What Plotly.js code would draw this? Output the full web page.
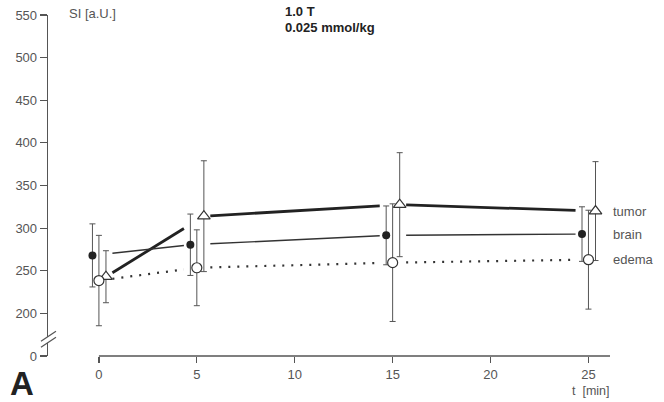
<!DOCTYPE html>
<html>
<head>
<meta charset="utf-8">
<script src="https://cdn.plot.ly/plotly-3.0.1.min.js"></script>
<style>html,body{margin:0;padding:0;background:#fff;}#chart{width:664px;height:402px;}</style>
</head>
<body>
<div id="chart"></div>
<script>
// ---- data ----
const times = [0, 5, 15, 25];
const seriesNames = ["tumor", "brain", "edema"];
const tumorSI = [243, 314, 327.5, 320];
const tumorErr = [30.5, 65, 61, 58];
const brainSI = [268, 280.5, 291.5, 293];
const brainErr = [37, 36, 34.5, 32];
const edemaSI = [238.5, 253.5, 259.5, 263];
const edemaErr = [53, 44.5, 69, 58];
const yTickVals = [150, 200, 250, 300, 350, 400, 450, 500, 550];
const yTickText = ["0", "200", "250", "300", "350", "400", "450", "500", "550"];
const xTickVals = [0, 5, 10, 15, 20, 25];

// ---- style ----
const FONT = "Liberation Sans, Arial, Helvetica, sans-serif";
const INK = "#222";
const GREY = "#555";
const xRange = [-2.6, 26.1];
const yRange = [150, 550];
const gapPad = 0.33;

const styles = {
  tumor: {shift: 0.36, y: tumorSI, err: tumorErr,
          line: {color: INK, width: 2.8},
          marker: {symbol: "triangle-up", size: 11, color: "#fff", line: {color: "#333", width: 1.2}}},
  brain: {shift: -0.33, y: brainSI, err: brainErr,
          line: {color: "#333", width: 1.4},
          marker: {symbol: "circle", size: 8, color: INK, line: {color: INK, width: 0}}},
  edema: {shift: 0, y: edemaSI, err: edemaErr,
          line: {color: "#333", width: 2.2, dash: "2px,7px"},
          marker: {symbol: "circle", size: 10, color: "#fff", line: {color: "#333", width: 1.2}}}
};

// cluster bounds (where connecting lines are interrupted)
const clusterL = times.map(t => Math.min(...seriesNames.map(n => t + styles[n].shift)) - gapPad);
const clusterR = times.map(t => Math.max(...seriesNames.map(n => t + styles[n].shift)) + gapPad);

const traces = [];
seriesNames.forEach(n => {
  const s = styles[n];
  const xs = times.map(t => t + s.shift);
  // gapped connecting line
  const lx = [], ly = [];
  for (let i = 0; i < xs.length - 1; i++) {
    const x0 = clusterR[i], x1 = clusterL[i + 1];
    const f = v => s.y[i] + (s.y[i + 1] - s.y[i]) * (v - xs[i]) / (xs[i + 1] - xs[i]);
    lx.push(x0, x1, null);
    ly.push(f(x0), f(x1), null);
  }
  traces.push({x: lx, y: ly, mode: "lines", line: s.line, hoverinfo: "skip",
               showlegend: false, connectgaps: false, cliponaxis: false});
});
seriesNames.forEach(n => {
  const s = styles[n];
  traces.push({
    x: times.map(t => t + s.shift), y: s.y, mode: "markers", name: n,
    marker: s.marker, showlegend: false, cliponaxis: false,
    error_y: {type: "data", array: s.err, visible: true, color: GREY, thickness: 1, width: 3}
  });
});

const annFont = {family: FONT, size: 13, color: GREY};
const annotations = [
  {text: "SI [a.U.]", xref: "paper", yref: "paper", x: 0.034, y: 1.003, xanchor: "left", yanchor: "middle", showarrow: false, font: annFont},
  {text: "<b>1.0 T</b>", xref: "paper", yref: "paper", x: 0.418, y: 1.009, xanchor: "left", yanchor: "middle", showarrow: false, font: {family: FONT, size: 13, color: INK}},
  {text: "<b>0.025 mmol/kg</b>", xref: "paper", yref: "paper", x: 0.418, y: 0.962, xanchor: "left", yanchor: "middle", showarrow: false, font: {family: FONT, size: 13, color: INK}},
  {text: "t  [min]", xref: "paper", yref: "paper", x: 1.004, y: -0.104, xanchor: "right", yanchor: "middle", showarrow: false, font: {family: FONT, size: 12.5, color: GREY}},
  {text: "<b>A</b>", xref: "paper", yref: "paper", x: -0.071, y: -0.08, xanchor: "left", yanchor: "middle", showarrow: false, font: {family: FONT, size: 33, color: INK}}
];
seriesNames.forEach(n => {
  const s = styles[n];
  annotations.push({text: n, xref: "paper", yref: "y", x: 1.0, xshift: 1, y: s.y[s.y.length - 1],
    xanchor: "left", yanchor: "middle", showarrow: false, font: annFont});
});

const shapes = [
  // x-axis line starting at t = 0
  {type: "line", xref: "x", yref: "paper", x0: 0, x1: xRange[1], y0: 0, y1: 0, line: {color: GREY, width: 1.3}, layer: "above"},
  // axis break: white gap + two slashes
  {type: "path", xref: "paper", yref: "paper", path: "M -0.0125 0.043 L 0.0142 0.0724 L 0.0142 0.0548 L -0.0125 0.0254 Z", fillcolor: "#fff", line: {width: 0}, layer: "above"},
  {type: "line", xref: "paper", yref: "paper", x0: -0.0125, y0: 0.043, x1: 0.0142, y1: 0.0724, line: {color: GREY, width: 1.2}, layer: "above"},
  {type: "line", xref: "paper", yref: "paper", x0: -0.0125, y0: 0.0254, x1: 0.0142, y1: 0.0548, line: {color: GREY, width: 1.2}, layer: "above"}
];

const layout = {
  width: 664, height: 402,
  margin: {l: 48, r: 54, t: 15, b: 46},
  paper_bgcolor: "#fff", plot_bgcolor: "#fff",
  font: {family: FONT, size: 13, color: GREY},
  showlegend: false,
  xaxis: {range: xRange, showline: false, showgrid: false, zeroline: false,
          tickvals: xTickVals, ticks: "outside", ticklen: 6, tickwidth: 1.2, tickcolor: GREY,
          tickfont: {family: FONT, size: 13, color: GREY}},
  yaxis: {range: yRange, showline: true, linecolor: GREY, linewidth: 1.3, showgrid: false, zeroline: false,
          tickvals: yTickVals, ticktext: yTickText, ticks: "outside", ticklen: 7, tickwidth: 1.2, tickcolor: GREY,
          tickfont: {family: FONT, size: 13, color: GREY}},
  annotations: annotations,
  shapes: shapes
};

Plotly.newPlot("chart", traces, layout, {displayModeBar: false, staticPlot: true});
</script>
</body>
</html>
